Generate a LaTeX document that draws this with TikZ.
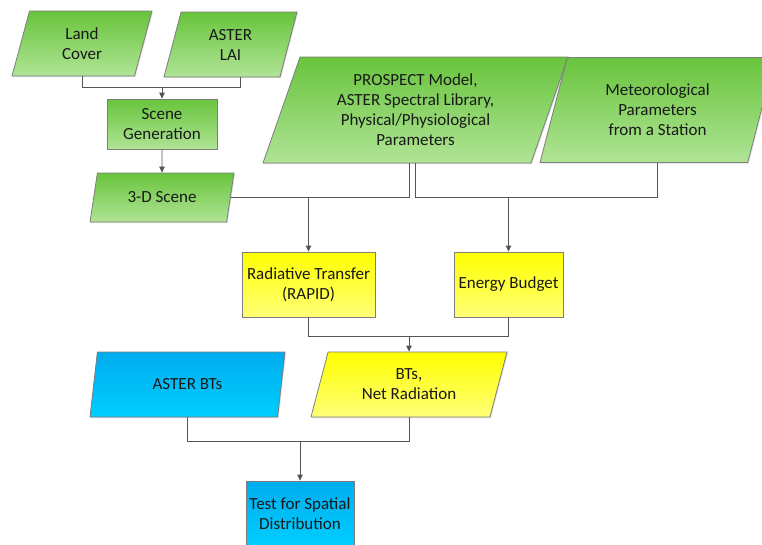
\documentclass[tikz,border=0pt]{standalone}
\usepackage{fontspec}
\setmainfont{Carlito}
\usepackage{xcolor}
\usepackage{tikz}
\usetikzlibrary{arrows.meta,calc,positioning,shapes.geometric,shadows}

\definecolor{greentop}{RGB}{104,196,60}
\definecolor{greenbot}{RGB}{176,228,150}
\definecolor{yellowtop}{RGB}{255,255,0}
\definecolor{yellowbot}{RGB}{255,255,120}
\definecolor{bluetop}{RGB}{0,172,238}
\definecolor{bluebot}{RGB}{0,206,255}
\definecolor{boxline}{RGB}{125,125,125}
\definecolor{linkcol}{RGB}{85,85,85}

\begin{document}
\begin{tikzpicture}[
    x=1pt, y=-1pt,
    every node/.style={font=\fontsize{17}{20}\selectfont, align=center, inner sep=2pt, text=black!90},
    box/.style={draw=boxline, line width=0.8pt, minimum height=65pt,
        drop shadow={opacity=0.25, shadow xshift=1pt, shadow yshift=-1pt}},
    data/.style={box, trapezium, trapezium left angle=64, trapezium right angle=116,
        trapezium stretches body},
    greenfill/.style={top color=greentop, bottom color=greenbot},
    yellowfill/.style={top color=yellowtop, bottom color=yellowbot},
    bluefill/.style={top color=bluetop, bottom color=bluebot},
    link/.style={draw=linkcol, line width=0.8pt},
    arrow/.style={link, -{Triangle[length=6pt,width=5.5pt]}},
]
\useasboundingbox (0,0) rectangle (762,544);
\node [data, greenfill, minimum width=140pt] (landcover) at (82,43.5) {Land\\Cover};
\node [data, greenfill, minimum width=133pt] (asterlai) at (230.5,44.5) {ASTER\\LAI};
\node [box, greenfill, minimum width=110pt, minimum height=50pt] (scenegen) at (162,124) {Scene\\Generation};
\node [data, greenfill, minimum width=144pt, minimum height=49pt] (scene3d) at (162,197.5) {3-D Scene};
\node [data, greenfill, minimum width=305pt, minimum height=106pt] (prospect) at (415.5,110) {PROSPECT Model,\\ASTER Spectral Library,\\Physical/Physiological\\Parameters};
\node [data, greenfill, minimum width=235pt, minimum height=105pt] (meteo) at (657.5,110) {Meteorological\\Parameters\\from a Station};
\node [box, yellowfill, minimum width=133pt] (rapid) at (308.5,284.5) {Radiative Transfer\\(RAPID)};
\node [box, yellowfill, minimum width=109pt] (budget) at (508.5,284.5) {Energy Budget};
\node [data, yellowfill, minimum width=196pt] (bts) at (409,384.5) {BTs,\\Net Radiation};
\node [data, bluefill, minimum width=195pt] (asterbts) at (187.5,384.5) {ASTER BTs};
\node [box, bluefill, minimum width=108pt] (spatial) at (300,513.5) {Test for Spatial\\Distribution};

\coordinate (landjoin) at ($(scenegen.north)+(0,-11)$);
\draw [link] (landcover.south) |- (landjoin) -| ([xshift=9.5pt]asterlai.south);
\draw [arrow] (landjoin) -- (scenegen.north);
\draw [arrow] (scenegen.south) -- (scene3d.north);

\coordinate (rapidjoin) at (rapid.north |- scene3d.east);
\coordinate (budgetjoin) at (budget.north |- scene3d.east);
\draw [link] (scene3d.east) -| ([xshift=-6pt]prospect.south);
\draw [link] (prospect.south) |- (budgetjoin) -| (meteo.south);
\draw [arrow] (rapidjoin) -- (rapid.north);
\draw [arrow] (budgetjoin) -- (budget.north);

\coordinate (btsjoin) at ($(bts.north)+(0,-15)$);
\draw [link] (rapid.south) |- (btsjoin) -| (budget.south);
\draw [arrow] (btsjoin) -- (bts.north);

\coordinate (spatialjoin) at ($(spatial.north)+(0,-39)$);
\draw [link] (asterbts.south) |- (spatialjoin) -| (bts.south);
\draw [arrow] (spatialjoin) -- (spatial.north);
\end{tikzpicture}
\end{document}
